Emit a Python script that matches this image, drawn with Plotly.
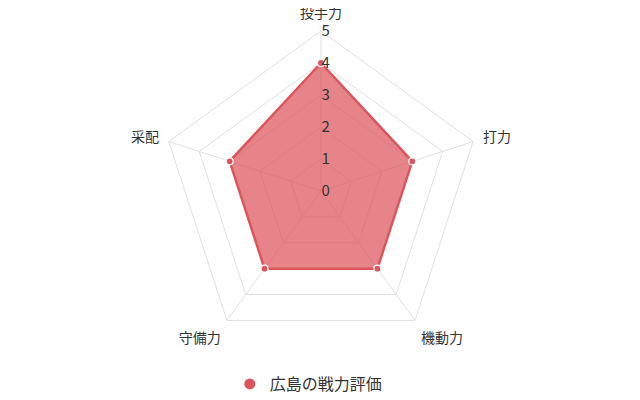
import plotly.graph_objects as go

categories = ["投手力", "打力", "機動力", "守備力", "采配"]
values = [4, 3, 3, 3, 3]
series_name = "広島の戦力評価"
color = "#dc555c"

fig = go.Figure()
fig.add_trace(go.Scatterpolar(
    r=values + values[:1],
    theta=categories + categories[:1],
    name=series_name,
    mode="lines+markers",
    fill="toself",
    fillcolor="rgba(220,85,92,0.72)",
    line=dict(color=color, width=2.5),
    marker=dict(size=7, color=color, line=dict(color="white", width=1.2)),
    showlegend=False,
))
# legend-only entry (circle symbol)
fig.add_trace(go.Scatterpolar(
    r=[None], theta=[categories[0]], name=series_name, mode="markers",
    marker=dict(size=11, color=color), showlegend=True,
))

fig.update_layout(
    width=640, height=400,
    margin=dict(l=0, r=0, t=0, b=0),
    paper_bgcolor="white",
    font=dict(family="Noto Sans CJK JP", size=14, color="#333"),
    polar=dict(
        domain=dict(x=[0, 0.978], y=[0.1425, 0.9425]),
        gridshape="linear",
        bgcolor="white",
        radialaxis=dict(range=[0, 5], dtick=1, angle=90, showline=False,
                        gridcolor="#e0e0e0", tickfont=dict(size=15, color="#333"),
                        ticks="", side="clockwise", tickangle=90),
        angularaxis=dict(direction="clockwise", rotation=90, gridcolor="#e0e0e0",
                         linecolor="#e0e0e0", ticks="outside", ticklen=7,
                         tickcolor="rgba(0,0,0,0)",
                         tickfont=dict(size=14, color="#333")),
    ),
    showlegend=True,
    legend=dict(orientation="h", x=0.47, xanchor="center", y=0.06, yanchor="middle",
                font=dict(size=16, color="#333")),
    shapes=[dict(type="line", xref="paper", yref="paper", x0=0, x1=1, y0=0.003, y1=0.003,
                 line=dict(color="#dddddd", width=1.5))],
)

fig.write_html("out.html")
